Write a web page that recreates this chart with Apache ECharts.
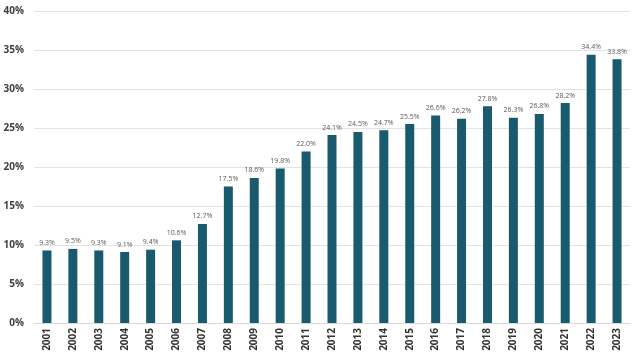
<!DOCTYPE html>
<html><head><meta charset="utf-8">
<script src="https://cdn.jsdelivr.net/npm/echarts@6/dist/echarts.min.js"></script>
<style>html,body{margin:0;padding:0;background:#fff}#c{width:640px;height:358px}</style>
</head><body><div id="c"></div>
<script>
var categories = ['2001','2002','2003','2004','2005','2006','2007','2008','2009','2010','2011','2012','2013','2014','2015','2016','2017','2018','2019','2020','2021','2022','2023'];
var values = [9.3,9.5,9.3,9.1,9.4,10.6,12.7,17.5,18.6,19.8,22.0,24.1,24.5,24.7,25.5,26.6,26.2,27.8,26.3,26.8,28.2,34.4,33.8];
var yTicks = [0,5,10,15,20,25,30,35,40];
var chart = echarts.init(document.getElementById('c'));
chart.setOption({
  animation:false,
  grid:{left:34,right:10,top:11,bottom:35,containLabel:false},
  xAxis:{type:'category',data:categories,
    axisLine:{lineStyle:{color:'#d9d9d9'}},axisTick:{show:false},
    axisLabel:{rotate:90,interval:0,color:'#333',fontFamily:'Open Sans',fontWeight:'bold',fontSize:10,margin:5}},
  yAxis:{type:'value',min:yTicks[0],max:yTicks[yTicks.length-1],interval:5,
    axisLabel:{formatter:'{value}%',color:'#404040',fontFamily:'Open Sans',fontWeight:'bold',fontSize:10,margin:10},
    splitLine:{lineStyle:{color:'#e3e3e3'}},axisLine:{show:false},axisTick:{show:false}},
  series:[{type:'bar',data:values,barWidth:9,itemStyle:{color:'#195a6e'},
    label:{show:true,position:'top',distance:4,formatter:function(p){return p.value.toFixed(1)+'%';},
      color:'#595959',fontFamily:'Open Sans',fontSize:7}}]
});
</script></body></html>
